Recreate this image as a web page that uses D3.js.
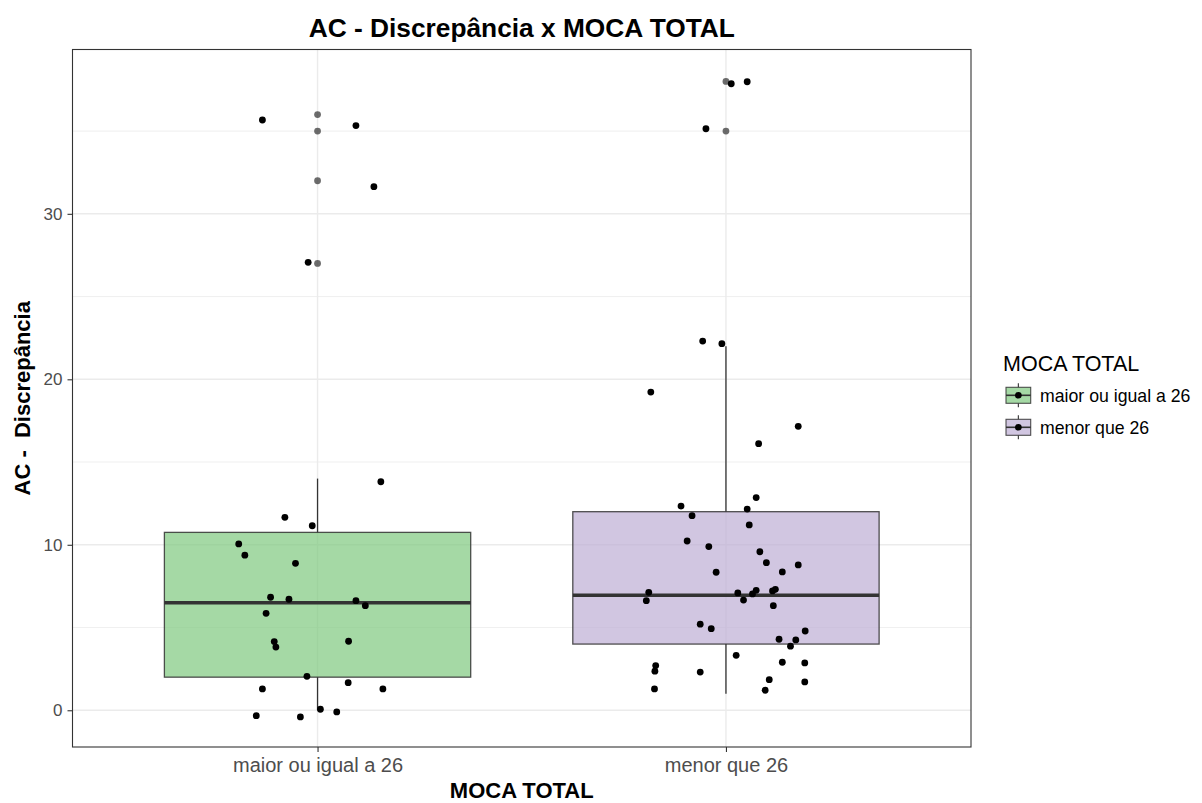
<!DOCTYPE html>
<html>
<head>
<meta charset="utf-8">
<script src="https://cdn.jsdelivr.net/npm/d3@7"></script>
<style>
  html, body { margin: 0; padding: 0; background: #fff; }
  svg { display: block; font-family: "Liberation Sans", Arial, sans-serif; }
</style>
</head>
<body>
<svg id="chart" width="1202" height="803"></svg>
<script>
// Groups on the x axis
const categories = ["maior ou igual a 26", "menor que 26"];
const fillColors = ["#7FC97F", "#BEAED4"];

// Box statistics per group
const boxLower   = [2, 4];
const boxMiddle  = [6.5, 6.95];
const boxUpper   = [10.75, 12];
const whiskerLow  = [0, 1];
const whiskerHigh = [14, 22];
const outliersG1 = [36, 35, 32, 27];
const outliersG2 = [38, 35];

// Jittered observations: value and horizontal jitter (in category units)
const valuesG1 = [35.67, 35.33, 31.64, 27.07, 13.81, 11.66, 11.15, 10.05, 9.37, 8.88,
  6.83, 6.71, 6.62, 6.32, 5.86, 4.15, 3.82, 4.17, 2.05, 1.67, 1.29, 1.29, 0.06, -0.10, -0.33, -0.40];
const jitterG1 = [-0.135, 0.094, 0.138, -0.023, 0.155, -0.080, -0.013, -0.193, -0.178, -0.054,
  -0.115, -0.070, 0.094, 0.117, -0.126, -0.106, -0.102, 0.076, -0.026, 0.075, -0.135, 0.160, 0.007, 0.047, -0.150, -0.042];

const valuesG2 = [37.86, 37.98, 35.14, 22.31, 22.15, 19.23, 17.16, 16.11, 12.85, 12.34,
  12.16, 11.76, 11.20, 10.23, 9.89, 9.58, 8.92, 8.78, 8.36, 8.34,
  7.13, 7.09, 7.25, 7.31, 7.21, 7.03, 6.62, 6.66, 6.32, 5.20,
  4.93, 4.79, 4.29, 4.25, 3.87, 3.32, 2.70, 2.36, 2.31, 2.90,
  2.86, 1.85, 1.71, 1.29, 1.21];
const jitterG2 = [0.013, 0.052, -0.049, -0.057, -0.010, -0.184, 0.177, 0.080, 0.074, -0.110,
  0.052, -0.083, 0.057, -0.095, -0.042, 0.083, 0.099, 0.177, 0.138, -0.024,
  -0.189, 0.029, 0.074, 0.121, 0.114, 0.065, -0.195, 0.043, 0.116, -0.063,
  -0.036, 0.194, 0.130, 0.171, 0.158, 0.025, -0.172, -0.174, -0.063, 0.138,
  0.193, 0.106, 0.193, -0.175, 0.096];

const yTicks = [0, 10, 20, 30];
const yMinor = [5, 15, 25, 35];

const titleText = "AC - Discrepância x MOCA TOTAL";
const xTitle = "MOCA TOTAL";
const yTitle = "AC -  Discrepância";
const legendTitle = "MOCA TOTAL";

// ---- layout ----
const panel = { left: 72.5, right: 971, top: 49.5, bottom: 747 };
const svg = d3.select("#chart");

const x = d3.scalePoint().domain(categories).range([panel.left, panel.right]).padding(0.6);
const y = d3.scaleLinear().domain([-2.22, 39.93]).range([panel.bottom, panel.top]);
const step = x.step();
const boxW = 0.75 * step;

const groups = categories.map((c, i) => ({
  cat: c,
  fill: fillColors[i],
  lower: boxLower[i], middle: boxMiddle[i], upper: boxUpper[i],
  ymin: whiskerLow[i], ymax: whiskerHigh[i],
  outliers: [outliersG1, outliersG2][i],
  points: ([valuesG1, valuesG2][i]).map((v, k) => ({ v, j: [jitterG1, jitterG2][i][k] }))
}));

// ---- grid ----
const grid = svg.append("g");
grid.selectAll("line.minor").data(yMinor).join("line")
  .attr("x1", panel.left).attr("x2", panel.right)
  .attr("y1", d => y(d)).attr("y2", d => y(d))
  .attr("stroke", "#ebebeb").attr("stroke-width", 0.8);
grid.selectAll("line.major").data(yTicks).join("line")
  .attr("x1", panel.left).attr("x2", panel.right)
  .attr("y1", d => y(d)).attr("y2", d => y(d))
  .attr("stroke", "#ebebeb").attr("stroke-width", 1.4);
grid.selectAll("line.vmajor").data(categories).join("line")
  .attr("x1", d => x(d)).attr("x2", d => x(d))
  .attr("y1", panel.top).attr("y2", panel.bottom)
  .attr("stroke", "#ebebeb").attr("stroke-width", 1.4);

// ---- boxplots ----
const bx = svg.append("g").selectAll("g").data(groups).join("g");
bx.append("line")
  .attr("x1", d => x(d.cat)).attr("x2", d => x(d.cat))
  .attr("y1", d => y(d.upper)).attr("y2", d => y(d.ymax))
  .attr("stroke", "#333").attr("stroke-width", 1.3);
bx.append("line")
  .attr("x1", d => x(d.cat)).attr("x2", d => x(d.cat))
  .attr("y1", d => y(d.lower)).attr("y2", d => y(d.ymin))
  .attr("stroke", "#333").attr("stroke-width", 1.3);
bx.append("rect")
  .attr("x", d => x(d.cat) - boxW / 2).attr("width", boxW)
  .attr("y", d => y(d.upper)).attr("height", d => y(d.lower) - y(d.upper))
  .attr("fill", d => d.fill).attr("fill-opacity", 0.7)
  .attr("stroke", "#333").attr("stroke-opacity", 0.85).attr("stroke-width", 1.3);
bx.append("line")
  .attr("x1", d => x(d.cat) - boxW / 2).attr("x2", d => x(d.cat) + boxW / 2)
  .attr("y1", d => y(d.middle)).attr("y2", d => y(d.middle))
  .attr("stroke", "#333").attr("stroke-width", 3.4);
bx.selectAll("circle.out").data(d => d.outliers.map(v => ({ v, cat: d.cat }))).join("circle")
  .attr("cx", d => x(d.cat)).attr("cy", d => y(d.v)).attr("r", 3.4)
  .attr("fill", "#333").attr("fill-opacity", 0.72);

// ---- jittered points ----
const pts = svg.append("g");
groups.forEach(g => {
  pts.selectAll(null).data(g.points).join("circle")
    .attr("cx", d => x(g.cat) + d.j * step)
    .attr("cy", d => y(d.v))
    .attr("r", 3.4)
    .attr("fill", "#000");
});

// ---- panel border ----
svg.append("rect")
  .attr("x", panel.left).attr("y", panel.top)
  .attr("width", panel.right - panel.left).attr("height", panel.bottom - panel.top)
  .attr("fill", "none").attr("stroke", "#333").attr("stroke-width", 1.1);

// ---- axes ----
const yAxis = svg.append("g").attr("transform", `translate(${panel.left},0)`)
  .call(d3.axisLeft(y).tickValues(yTicks).tickSize(5).tickPadding(5).tickFormat(d3.format("d")));
yAxis.select(".domain").remove();
yAxis.selectAll(".tick line").attr("stroke", "#333").attr("stroke-width", 1.1);
yAxis.selectAll(".tick text").attr("fill", "#4d4d4d").style("font-size", "17px");

const xAxis = svg.append("g").attr("transform", `translate(0,${panel.bottom})`)
  .call(d3.axisBottom(x).tickSize(5).tickPadding(6));
xAxis.select(".domain").remove();
xAxis.selectAll(".tick line").attr("stroke", "#333").attr("stroke-width", 1.1);
xAxis.selectAll(".tick text").attr("fill", "#4d4d4d").style("font-size", "20px");

// ---- titles ----
svg.append("text")
  .attr("x", (panel.left + panel.right) / 2).attr("y", 37)
  .attr("text-anchor", "middle").style("font-size", "26.3px").style("font-weight", "bold")
  .attr("fill", "#000").text(titleText);

svg.append("text")
  .attr("x", (panel.left + panel.right) / 2).attr("y", 798)
  .attr("text-anchor", "middle").style("font-size", "22px").style("font-weight", "bold")
  .attr("fill", "#000").text(xTitle);

svg.append("text")
  .attr("transform", `translate(30,${(panel.top + panel.bottom) / 2}) rotate(-90)`)
  .attr("text-anchor", "middle").style("font-size", "22px").style("font-weight", "bold")
  .style("white-space", "pre").attr("fill", "#000").text(yTitle);

// ---- legend ----
const legend = svg.append("g").attr("transform", "translate(1006,0)");
legend.append("text").attr("x", -3).attr("y", 371)
  .style("font-size", "21.5px").attr("fill", "#000").text(legendTitle);

const keyTop = [387.3, 419.3];
const keyH = 16, keyW = 24.7;
const key = legend.selectAll("g.key").data(groups).join("g")
  .attr("transform", (d, i) => `translate(0,${keyTop[i]})`);
key.append("line")
  .attr("x1", keyW / 2).attr("x2", keyW / 2).attr("y1", -4).attr("y2", keyH + 4)
  .attr("stroke", "#333").attr("stroke-width", 1.1);
key.append("rect")
  .attr("width", keyW).attr("height", keyH)
  .attr("fill", "#fff");
key.append("rect")
  .attr("width", keyW).attr("height", keyH)
  .attr("fill", d => d.fill).attr("fill-opacity", 0.7)
  .attr("stroke", "#333").attr("stroke-opacity", 0.85).attr("stroke-width", 1.1);
key.append("line")
  .attr("x1", 0).attr("x2", keyW).attr("y1", keyH / 2).attr("y2", keyH / 2)
  .attr("stroke", "#333").attr("stroke-width", 1.6);
key.append("circle")
  .attr("cx", keyW / 2).attr("cy", keyH / 2).attr("r", 3.3).attr("fill", "#000");
key.append("text")
  .attr("x", 34).attr("y", keyH / 2).attr("dy", "0.36em")
  .style("font-size", "17.7px").attr("fill", "#000").text(d => d.cat);
</script>
</body>
</html>
